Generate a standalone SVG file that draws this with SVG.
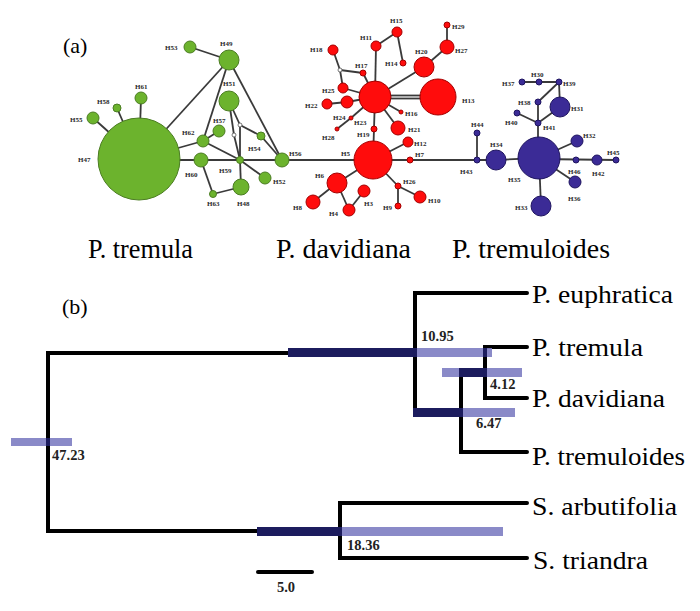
<svg xmlns="http://www.w3.org/2000/svg" width="700" height="611" viewBox="0 0 700 611">
<style>
.e{stroke:#3a3a3a;stroke-width:1.8;fill:none}
.gr{fill:#6cb32d;stroke:#4b7d22;stroke-width:1}
.rd{fill:#ff0c0c;stroke:#a30000;stroke-width:1}
.bl{fill:#3b2b96;stroke:#1f1560;stroke-width:1}
.mv{fill:#ffffff;stroke:#555;stroke-width:0.8}
.lb{font-family:"Liberation Serif","Times New Roman",serif;font-size:7px;font-weight:bold;fill:#2a2a2a}
.sp{font-family:"Liberation Serif","Times New Roman",serif;fill:#000}
.tip{font-family:"Liberation Serif","Times New Roman",serif;fill:#000;font-size:25px}
.num{font-family:"Liberation Serif","Times New Roman",serif;font-weight:bold;font-size:14.5px;fill:#222}
.br{stroke:#000;stroke-width:4;fill:none;stroke-linecap:round;stroke-linejoin:miter}
.bar{fill:#7d7dc2}
.nv{fill:#1c1c5e}
</style>
<rect width="700" height="611" fill="#fff"/>
<text class="sp" x="63" y="53" font-size="22">(a)</text>
<text class="sp" x="62" y="314" font-size="22">(b)</text>

<g id="connectors">
<line class="e" x1="139" y1="159" x2="93" y2="118"/>
<line class="e" x1="139" y1="159" x2="117" y2="108"/>
<line class="e" x1="139" y1="159" x2="141" y2="98"/>
<line class="e" x1="139" y1="159" x2="229" y2="60"/>
<line class="e" x1="139" y1="159" x2="203" y2="141"/>
<line class="e" x1="139" y1="160" x2="410" y2="160"/>
<line class="e" x1="190" y1="47" x2="229" y2="60"/>
<line class="e" x1="229" y1="60" x2="203" y2="141"/>
<line class="e" x1="229" y1="60" x2="282" y2="160"/>
<line class="e" x1="229" y1="101" x2="234" y2="135"/>
<line class="e" x1="229" y1="101" x2="240" y2="125"/>
<line class="e" x1="240" y1="125" x2="240" y2="160"/>
<line class="e" x1="240" y1="125" x2="261" y2="136"/>
<line class="e" x1="234" y1="135" x2="240" y2="160"/>
<line class="e" x1="261" y1="136" x2="282" y2="160"/>
<line class="e" x1="203" y1="141" x2="219" y2="131"/>
<line class="e" x1="203" y1="141" x2="240" y2="160"/>
<line class="e" x1="240" y1="160" x2="241" y2="187"/>
<line class="e" x1="240" y1="160" x2="265" y2="178"/>
<line class="e" x1="201" y1="160" x2="213" y2="194"/>
<line class="e" x1="213" y1="194" x2="241" y2="187"/>
<line class="e" x1="375" y1="97" x2="376" y2="46"/>
<line class="e" x1="376" y1="46" x2="397" y2="32"/>
<line class="e" x1="397" y1="32" x2="403" y2="63"/>
<line class="e" x1="375" y1="97" x2="424" y2="67"/>
<line class="e" x1="424" y1="67" x2="447" y2="47"/>
<line class="e" x1="447" y1="47" x2="447" y2="25"/>
<line class="e" x1="390" y1="95.5" x2="421" y2="95.5"/>
<line class="e" x1="390" y1="98.5" x2="421" y2="98.5"/>
<line class="e" x1="375" y1="97" x2="363" y2="73"/>
<line class="e" x1="363" y1="73" x2="340" y2="70"/>
<line class="e" x1="340" y1="70" x2="333" y2="50"/>
<line class="e" x1="340" y1="70" x2="343" y2="88"/>
<line class="e" x1="343" y1="88" x2="375" y2="97"/>
<line class="e" x1="375" y1="97" x2="347" y2="102"/>
<line class="e" x1="347" y1="102" x2="327" y2="104"/>
<line class="e" x1="375" y1="97" x2="351" y2="118"/>
<line class="e" x1="351" y1="118" x2="337" y2="129"/>
<line class="e" x1="375" y1="97" x2="401" y2="112"/>
<line class="e" x1="375" y1="97" x2="398" y2="128"/>
<line class="e" x1="375" y1="97" x2="373" y2="160"/>
<line class="e" x1="373" y1="160" x2="408" y2="142"/>
<line class="e" x1="410" y1="160" x2="496" y2="160"/>
<line class="e" x1="373" y1="160" x2="398" y2="186"/>
<line class="e" x1="398" y1="186" x2="420" y2="197"/>
<line class="e" x1="398" y1="186" x2="398" y2="206"/>
<line class="e" x1="373" y1="160" x2="337" y2="183"/>
<line class="e" x1="337" y1="183" x2="313" y2="202"/>
<line class="e" x1="337" y1="183" x2="349" y2="210"/>
<line class="e" x1="349" y1="210" x2="364" y2="191"/>
<line class="e" x1="522" y1="82" x2="559" y2="82"/>
<line class="e" x1="559" y1="82" x2="538" y2="102"/>
<line class="e" x1="559" y1="82" x2="560" y2="107"/>
<line class="e" x1="538" y1="102" x2="538" y2="158"/>
<line class="e" x1="517" y1="113" x2="538" y2="123"/>
<line class="e" x1="538" y1="123" x2="560" y2="107"/>
<line class="e" x1="496" y1="160" x2="539" y2="158"/>
<line class="e" x1="477" y1="160" x2="477" y2="133"/>
<line class="e" x1="539" y1="158" x2="577" y2="141"/>
<line class="e" x1="539" y1="159" x2="616" y2="160"/>
<line class="e" x1="539" y1="158" x2="575" y2="182"/>
<line class="e" x1="539" y1="158" x2="541" y2="206"/>
</g>

<g id="green-nodes">
<g id="H47"><circle class="gr" cx="139" cy="159" r="41"/><text class="lb" x="78" y="161.5">H47</text></g>
<g id="H55"><circle class="gr" cx="93" cy="118" r="6"/><text class="lb" x="70" y="121.5">H55</text></g>
<g id="H58"><circle class="gr" cx="117" cy="108" r="4"/><text class="lb" x="97" y="103.5">H58</text></g>
<g id="H61"><circle class="gr" cx="141" cy="98" r="6"/><text class="lb" x="135" y="88.5">H61</text></g>
<g id="H53"><circle class="gr" cx="190" cy="47" r="6"/><text class="lb" x="165" y="49.5">H53</text></g>
<g id="H49"><circle class="gr" cx="229" cy="60" r="10"/><text class="lb" x="220" y="45.5">H49</text></g>
<g id="H51"><circle class="gr" cx="229" cy="101" r="10"/><text class="lb" x="223" y="85.5">H51</text></g>
<g id="H57"><circle class="gr" cx="219" cy="131" r="6"/><text class="lb" x="213" y="122.5">H57</text></g>
<g id="H62"><circle class="gr" cx="203" cy="141" r="6"/><text class="lb" x="182" y="134.5">H62</text></g>
<g id="H54"><circle class="gr" cx="261" cy="136" r="4"/><text class="lb" x="248" y="150.5">H54</text></g>
<g id="H56"><circle class="gr" cx="282" cy="160" r="7"/><text class="lb" x="289" y="155.5">H56</text></g>
<g id="H60"><circle class="gr" cx="201" cy="160" r="7"/><text class="lb" x="185" y="176.5">H60</text></g>
<g id="H59"><circle class="gr" cx="240" cy="160" r="3.5"/><text class="lb" x="219" y="172.5">H59</text></g>
<g id="H52"><circle class="gr" cx="265" cy="178" r="6"/><text class="lb" x="273" y="183.5">H52</text></g>
<g id="H48"><circle class="gr" cx="241" cy="187" r="8"/><text class="lb" x="237" y="205.5">H48</text></g>
<g id="H63"><circle class="gr" cx="213" cy="194" r="3.5"/><text class="lb" x="207" y="205.5">H63</text></g>
<g id="mv-g1"><circle class="mv" cx="240" cy="125" r="2"/></g>
<g id="mv-g2"><circle class="mv" cx="234" cy="135" r="2"/></g>
</g>

<g id="red-nodes">
<g id="R-center"><circle class="rd" cx="375" cy="97" r="16"/></g>
<g id="H18"><circle class="rd" cx="333" cy="50" r="5"/><text class="lb" x="310" y="51.5">H18</text></g>
<g id="H11"><circle class="rd" cx="376" cy="46" r="5"/><text class="lb" x="360" y="39.5">H11</text></g>
<g id="H15"><circle class="rd" cx="397" cy="32" r="5"/><text class="lb" x="390" y="22.5">H15</text></g>
<g id="H29"><circle class="rd" cx="447" cy="25" r="3"/><text class="lb" x="452" y="28.5">H29</text></g>
<g id="H27"><circle class="rd" cx="447" cy="47" r="7"/><text class="lb" x="455" y="52.5">H27</text></g>
<g id="H20"><circle class="rd" cx="424" cy="67" r="10"/><text class="lb" x="415" y="53.5">H20</text></g>
<g id="H17"><circle class="rd" cx="363" cy="73" r="3"/><text class="lb" x="355" y="67.5">H17</text></g>
<g id="H14"><circle class="rd" cx="403" cy="63" r="3"/><text class="lb" x="385" y="65.5">H14</text></g>
<g id="mv-r"><circle class="mv" cx="340" cy="70" r="2"/></g>
<g id="H25"><circle class="rd" cx="343" cy="88" r="5"/><text class="lb" x="322" y="92.5">H25</text></g>
<g id="H22"><circle class="rd" cx="327" cy="104" r="5"/><text class="lb" x="305" y="107.5">H22</text></g>
<g id="H24"><circle class="rd" cx="347" cy="102" r="6"/><text class="lb" x="333" y="119.5">H24</text></g>
<g id="H23"><circle class="rd" cx="351" cy="118" r="2"/><text class="lb" x="354" y="124.5">H23</text></g>
<g id="H28"><circle class="rd" cx="337" cy="129" r="2"/><text class="lb" x="322" y="139.5">H28</text></g>
<g id="H19"><circle class="rd" cx="374" cy="129" r="3"/><text class="lb" x="357" y="136.5">H19</text></g>
<g id="H13"><circle class="rd" cx="438" cy="97" r="18"/><text class="lb" x="462" y="102.5">H13</text></g>
<g id="H16"><circle class="rd" cx="401" cy="112" r="2"/><text class="lb" x="405" y="115.5">H16</text></g>
<g id="H21"><circle class="rd" cx="398" cy="128" r="7"/><text class="lb" x="408" y="131.5">H21</text></g>
<g id="H5"><circle class="rd" cx="373" cy="160" r="19"/><text class="lb" x="341" y="155.5">H5</text></g>
<g id="H12"><circle class="rd" cx="408" cy="142" r="5"/><text class="lb" x="414" y="145.5">H12</text></g>
<g id="H7"><circle class="rd" cx="410" cy="160" r="3"/><text class="lb" x="415" y="156.5">H7</text></g>
<g id="H6"><circle class="rd" cx="337" cy="183" r="10"/><text class="lb" x="315" y="177.5">H6</text></g>
<g id="H3"><circle class="rd" cx="364" cy="191" r="6"/><text class="lb" x="364" y="205.5">H3</text></g>
<g id="H8"><circle class="rd" cx="313" cy="202" r="7"/><text class="lb" x="293" y="209.5">H8</text></g>
<g id="H4"><circle class="rd" cx="349" cy="210" r="6"/><text class="lb" x="329" y="215.5">H4</text></g>
<g id="H26"><circle class="rd" cx="398" cy="186" r="3"/><text class="lb" x="403" y="183.5">H26</text></g>
<g id="H9"><circle class="rd" cx="398" cy="206" r="3"/><text class="lb" x="383" y="209.5">H9</text></g>
<g id="H10"><circle class="rd" cx="420" cy="197" r="6"/><text class="lb" x="428" y="202.5">H10</text></g>
</g>

<g id="blue-nodes">
<g id="H37"><circle class="bl" cx="522" cy="82" r="3"/><text class="lb" x="502" y="85.5">H37</text></g>
<g id="H30"><circle class="bl" cx="539" cy="82" r="3"/><text class="lb" x="531" y="76.5">H30</text></g>
<g id="H39"><circle class="bl" cx="559" cy="82" r="3"/><text class="lb" x="563" y="85.5">H39</text></g>
<g id="H38"><circle class="bl" cx="538" cy="102" r="3"/><text class="lb" x="518" y="104.5">H38</text></g>
<g id="H31"><circle class="bl" cx="560" cy="107" r="10"/><text class="lb" x="571" y="110.5">H31</text></g>
<g id="H40"><circle class="bl" cx="517" cy="113" r="3"/><text class="lb" x="505" y="124.5">H40</text></g>
<g id="H41"><circle class="bl" cx="538" cy="123" r="3"/><text class="lb" x="543" y="129.5">H41</text></g>
<g id="H44"><circle class="bl" cx="477" cy="133" r="3"/><text class="lb" x="471" y="126.5">H44</text></g>
<g id="H43"><circle class="bl" cx="477" cy="160" r="3"/><text class="lb" x="460" y="173.5">H43</text></g>
<g id="H34"><circle class="bl" cx="496" cy="160" r="10"/><text class="lb" x="490" y="146.5">H34</text></g>
<g id="H35"><circle class="bl" cx="539" cy="158" r="21"/><text class="lb" x="508" y="181.5">H35</text></g>
<g id="H32"><circle class="bl" cx="577" cy="141" r="6"/><text class="lb" x="583" y="137.5">H32</text></g>
<g id="H46"><circle class="bl" cx="576" cy="160" r="3"/><text class="lb" x="568" y="173.5">H46</text></g>
<g id="H42"><circle class="bl" cx="597" cy="160" r="5"/><text class="lb" x="592" y="175.5">H42</text></g>
<g id="H45"><circle class="bl" cx="616" cy="160" r="3"/><text class="lb" x="607" y="154.5">H45</text></g>
<g id="H36"><circle class="bl" cx="575" cy="182" r="6"/><text class="lb" x="568" y="200.5">H36</text></g>
<g id="H33"><circle class="bl" cx="541" cy="206" r="10"/><text class="lb" x="515" y="209.5">H33</text></g>
</g>

<g id="species-a">
<text class="sp" x="88" y="258" font-size="28" textLength="105" lengthAdjust="spacingAndGlyphs">P. tremula</text>
<text class="sp" x="276" y="258" font-size="28" textLength="135" lengthAdjust="spacingAndGlyphs">P. davidiana</text>
<text class="sp" x="452" y="258" font-size="28" textLength="158" lengthAdjust="spacingAndGlyphs">P. tremuloides</text>
</g>

<g id="tree-branches">
<path class="br" d="M415 353 H48 V531 H340"/>
<path class="br" d="M527 293 H415 V412 H461"/>
<path class="br" d="M527 452 H461 V373 H485"/>
<path class="br" d="M527 347 H485 V398 H527"/>
<path class="br" d="M527 503 H340 V558 H527"/>
</g>

<g id="age-bars">
<rect class="bar" x="11" y="438" width="61" height="8" opacity="0.9"/>
<rect class="bar" x="288" y="348" width="204" height="9" opacity="0.9"/>
<rect class="bar" x="442" y="368" width="80" height="9" opacity="0.9"/>
<rect class="bar" x="415" y="408" width="100" height="9" opacity="0.9"/>
<rect class="bar" x="257" y="527" width="246" height="9" opacity="0.9"/>
<rect class="nv" x="288" y="348" width="127" height="9"/>
<rect class="nv" x="459" y="368" width="28" height="9"/>
<rect class="nv" x="413" y="408" width="48" height="9"/>
<rect class="nv" x="257" y="527" width="83" height="9"/>
<rect class="nv" x="46" y="438" width="4" height="8"/>
<rect class="nv" x="413" y="348" width="4" height="9"/>
<rect class="nv" x="483" y="348" width="4" height="9"/>
<rect class="nv" x="483" y="368" width="4" height="9"/>
<rect class="nv" x="459" y="408" width="4" height="9"/>
<rect class="nv" x="338" y="527" width="4" height="9"/>
</g>

<g id="node-ages">
<text class="num" x="52" y="460">47.23</text>
<text class="num" x="421" y="341">10.95</text>
<text class="num" x="490" y="389">4.12</text>
<text class="num" x="476" y="428">6.47</text>
<text class="num" x="347" y="550">18.36</text>
</g>

<g id="tips">
<text class="tip" x="532" y="303" textLength="141" lengthAdjust="spacingAndGlyphs">P. euphratica</text>
<text class="tip" x="532" y="356" textLength="111" lengthAdjust="spacingAndGlyphs">P. tremula</text>
<text class="tip" x="532" y="407" textLength="133" lengthAdjust="spacingAndGlyphs">P. davidiana</text>
<text class="tip" x="532" y="465" textLength="153" lengthAdjust="spacingAndGlyphs">P. tremuloides</text>
<text class="tip" x="532" y="515" textLength="145" lengthAdjust="spacingAndGlyphs">S. arbutifolia</text>
<text class="tip" x="533" y="569" textLength="115" lengthAdjust="spacingAndGlyphs">S. triandra</text>
</g>

<g id="scale-bar">
<line x1="258" y1="572" x2="312" y2="572" stroke="#000" stroke-width="4" stroke-linecap="round"/>
<text class="num" x="286" y="592" text-anchor="middle" font-size="13.5">5.0</text>
</g>
</svg>
